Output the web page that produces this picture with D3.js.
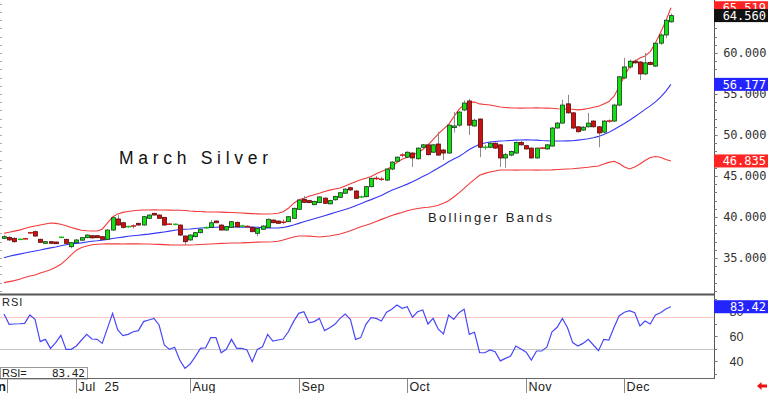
<!DOCTYPE html>
<html>
<head>
<meta charset="utf-8">
<script src="https://cdn.jsdelivr.net/npm/d3@7"></script>
<style>
  body { margin: 0; background: #fff; }
  svg { display: block; }
  text { font-family: "Liberation Sans", Arial, sans-serif; }
  .mono { font-family: "DejaVu Sans Mono", monospace; }
</style>
</head>
<body>
<svg id="chart" width="768" height="393"></svg>
<script>
// daily bars, mid Jun -> Dec 12
const opens = [
  37.40,37.52,37.40,37.25,37.40,38.10,38.21,37.28,36.79,36.99,
  36.95,37.50,37.28,36.38,36.87,37.17,37.48,37.72,37.72,37.60,
  37.28,38.41,39.76,39.30,38.80,38.93,39.23,39.02,39.84,40.45,
  40.24,39.96,39.15,39.08,39.02,37.68,37.20,37.60,38.09,38.65,
  38.74,39.51,39.02,38.41,38.74,39.35,38.85,38.92,38.74,38.01,
  38.50,38.74,39.63,39.51,39.43,39.43,39.84,40.94,42.16,42.00,
  41.50,41.75,42.30,41.60,42.10,42.40,42.90,43.57,43.17,42.40,
  42.48,43.70,44.75,44.65,44.50,45.85,46.80,47.60,47.30,47.80,
  47.10,48.50,48.80,47.90,48.90,48.17,47.80,50.90,51.20,53.05,
  54.15,51.10,51.95,48.45,48.50,49.00,48.80,47.20,47.55,47.80,
  49.10,48.70,48.40,47.20,48.45,48.30,48.65,50.85,51.45,53.80,
  52.70,51.00,50.60,51.00,51.70,51.00,50.35,51.75,51.70,53.65,
  56.95,58.30,59.00,58.90,57.45,58.85,58.40,61.20,62.20,63.80
];
const highs = [
  37.80,37.65,37.50,37.35,37.45,38.20,38.35,37.35,37.05,37.05,
  37.00,37.60,37.35,36.95,37.30,37.55,37.90,37.80,37.80,37.65,
  38.50,40.00,40.24,39.40,38.95,39.10,39.30,40.10,40.30,40.50,
  40.30,40.00,39.20,39.20,39.10,37.75,37.90,38.15,38.60,38.85,
  39.63,39.60,39.10,38.90,39.50,39.45,39.05,39.00,38.80,38.70,
  39.00,39.80,39.70,39.55,39.70,40.10,41.15,42.20,42.56,42.10,
  42.00,42.50,42.40,42.10,42.60,43.05,43.50,43.70,43.25,42.60,
  43.80,44.80,45.00,44.90,45.95,46.80,47.40,47.80,48.00,47.90,
  48.50,48.90,48.90,48.90,50.40,48.30,51.30,52.80,52.90,54.20,
  54.40,52.00,52.00,48.80,49.20,49.10,48.90,47.80,48.10,49.20,
  49.30,48.80,48.50,48.50,48.50,48.90,51.00,51.60,54.30,54.90,
  52.80,51.10,51.10,52.70,51.80,51.10,51.80,51.90,53.80,57.20,
  59.40,59.20,59.20,59.00,60.00,59.00,61.30,62.40,64.10,64.80
];
const lows = [
  37.30,37.10,36.85,37.20,37.25,37.90,37.60,36.85,36.75,36.75,
  36.70,37.45,36.70,36.20,36.80,37.10,37.40,37.40,37.40,37.20,
  37.20,38.30,38.95,38.60,38.70,38.60,38.95,38.95,39.80,40.20,
  39.80,38.95,39.05,39.00,37.70,36.60,37.10,37.50,38.00,38.55,
  38.70,39.25,38.35,38.30,38.70,38.70,38.80,38.70,38.15,37.68,
  38.45,38.70,39.25,39.20,39.10,39.40,39.80,40.90,41.70,41.70,
  41.45,41.70,41.60,41.55,42.00,42.30,42.80,43.20,42.20,42.30,
  42.40,43.60,44.50,44.40,44.40,45.70,46.70,47.30,47.20,46.10,
  47.00,48.40,47.50,47.80,47.50,46.95,47.70,50.30,51.00,52.90,
  50.00,51.00,47.30,48.20,48.40,48.30,46.10,46.00,47.40,47.70,
  48.70,48.20,47.10,47.10,48.30,48.20,48.60,50.80,51.40,52.60,
  50.70,50.30,50.50,50.90,50.90,48.50,50.20,51.50,51.60,53.50,
  56.80,58.10,58.70,56.70,57.30,58.50,58.30,61.00,61.80,63.70
];
const closes = [
  37.60,37.20,36.99,37.30,37.28,38.05,37.68,36.91,36.99,36.79,
  36.74,37.55,36.79,36.87,37.20,37.48,37.80,37.45,37.48,37.28,
  38.41,39.91,39.02,38.74,38.85,38.88,39.02,40.04,40.24,40.24,
  39.84,39.02,39.10,39.13,37.80,36.99,37.80,38.09,38.50,38.75,
  39.30,39.30,38.41,38.82,39.43,38.80,38.95,38.75,38.21,38.62,
  38.90,39.72,39.30,39.23,39.30,40.04,41.06,42.07,41.79,41.75,
  41.90,42.45,41.67,42.00,42.50,42.96,43.40,43.30,42.28,42.50,
  43.70,44.72,44.65,44.55,45.85,46.70,47.30,47.50,47.90,47.20,
  48.40,48.80,47.60,48.80,47.55,47.80,51.20,51.10,52.80,53.90,
  51.20,51.80,48.50,48.55,49.00,48.40,47.20,47.60,48.00,49.10,
  48.80,48.30,47.20,48.40,48.35,48.80,50.85,51.45,53.65,52.70,
  50.85,50.40,50.95,51.45,51.00,50.25,51.70,51.65,53.65,57.10,
  58.30,59.00,58.80,57.45,58.80,58.60,61.20,62.20,64.00,64.56
];

const upperBand = [
  38.02,38.15,38.28,38.40,38.59,38.78,38.90,39.02,39.15,39.27,
  39.22,39.11,38.93,38.73,38.55,38.39,38.33,38.29,38.29,38.51,
  39.24,40.00,40.38,40.56,40.68,40.77,40.83,40.85,40.86,40.87,
  40.86,40.85,40.84,40.83,40.82,40.79,40.73,40.69,40.67,40.63,
  40.61,40.61,40.60,40.57,40.54,40.51,40.48,40.44,40.41,40.38,
  40.36,40.36,40.40,40.46,40.65,41.06,41.65,42.10,42.29,42.52,
  42.72,42.90,43.10,43.28,43.41,43.54,43.79,44.05,44.29,44.54,
  44.73,44.95,45.26,45.56,45.80,46.15,46.65,47.05,47.30,47.56,
  47.80,48.23,48.79,49.44,50.13,50.71,51.30,52.21,53.12,53.69,
  53.99,54.02,53.79,53.72,53.66,53.54,53.41,53.35,53.30,53.29,
  53.28,53.29,53.30,53.31,53.30,53.28,53.27,53.21,53.17,53.17,
  53.14,53.07,53.12,53.24,53.38,53.50,53.78,54.07,54.73,55.90,
  57.17,58.33,58.99,59.39,59.63,60.17,61.23,62.50,63.88,65.52
];
const midBand = [
  35.02,35.21,35.35,35.47,35.60,35.73,35.85,35.97,36.11,36.23,
  36.35,36.49,36.61,36.72,36.78,36.85,36.95,37.05,37.10,37.17,
  37.27,37.37,37.46,37.55,37.65,37.72,37.78,37.85,37.91,38.00,
  38.09,38.18,38.28,38.38,38.48,38.51,38.54,38.60,38.66,38.69,
  38.72,38.75,38.78,38.78,38.79,38.78,38.77,38.78,38.77,38.75,
  38.71,38.67,38.66,38.66,38.73,38.86,39.02,39.22,39.41,39.60,
  39.79,39.97,40.16,40.35,40.55,40.73,40.92,41.12,41.37,41.62,
  41.88,42.12,42.38,42.63,42.96,43.26,43.51,43.76,44.01,44.29,
  44.61,44.93,45.23,45.60,45.97,46.35,46.73,47.06,47.38,47.79,
  48.23,48.56,48.88,49.02,49.15,49.21,49.27,49.29,49.33,49.37,
  49.39,49.40,49.39,49.37,49.32,49.29,49.27,49.26,49.27,49.28,
  49.30,49.37,49.45,49.54,49.67,49.83,50.06,50.32,50.67,51.04,
  51.41,51.80,52.23,52.67,53.12,53.55,54.04,54.63,55.33,56.18
];
const lowerBand = [
  32.00,32.12,32.24,32.41,32.61,32.80,32.93,33.18,33.36,33.56,
  33.88,34.23,34.76,35.39,35.95,36.28,36.46,36.61,36.67,36.71,
  36.72,36.73,36.72,36.71,36.72,36.73,36.72,36.71,36.70,36.68,
  36.66,36.63,36.60,36.59,36.58,36.59,36.59,36.61,36.65,36.68,
  36.71,36.74,36.78,36.80,36.83,36.83,36.84,36.88,36.90,36.94,
  36.95,36.96,36.99,37.05,37.19,37.38,37.56,37.68,37.69,37.67,
  37.63,37.57,37.62,37.68,37.80,37.93,38.12,38.32,38.56,38.82,
  39.00,39.20,39.45,39.71,39.95,40.18,40.38,40.56,40.76,40.91,
  41.03,41.13,41.19,41.29,41.43,41.67,41.99,42.44,42.95,43.50,
  44.07,44.59,45.09,45.32,45.49,45.61,45.73,45.74,45.73,45.72,
  45.73,45.74,45.73,45.72,45.73,45.74,45.75,45.79,45.82,45.85,
  45.89,45.95,46.01,46.07,46.15,46.21,46.46,46.66,46.79,46.52,
  46.10,45.85,46.10,46.46,46.89,47.26,47.38,47.28,47.01,46.84
];

const rsiValues = [
  77.6,69.3,69.6,69.8,70.1,76.8,73.3,55.5,57.3,50.1,
  54.7,60.5,49.3,49.3,52.0,56.8,61.3,57.6,57.3,54.1,
  66.1,78.1,64.8,60.3,61.3,63.4,64.3,71.5,72.8,74.1,
  68.8,52.8,49.3,51.0,40.8,34.1,37.6,43.5,50.1,50.6,
  58.7,58.7,46.6,49.3,57.3,50.1,50.1,48.8,39.4,49.3,
  51.4,61.3,56.0,56.8,57.6,63.4,71.5,78.1,79.4,70.6,
  71.5,74.1,64.3,66.6,69.3,74.1,77.6,73.3,57.3,58.7,
  69.3,74.6,74.1,72.0,79.0,81.4,84.8,82.2,83.4,75.0,
  79.4,80.8,69.6,74.1,65.4,61.6,76.8,73.3,78.6,81.4,
  61.3,63.0,46.6,46.6,48.8,47.4,40.1,42.1,44.0,52.0,
  49.6,47.0,40.8,48.0,48.0,51.0,63.4,67.0,74.1,66.6,
  54.7,52.0,54.1,57.3,52.8,48.2,57.3,56.8,67.0,76.2,
  79.0,80.2,78.6,68.0,72.0,69.6,76.8,78.6,81.6,83.42
];

// bar index of the first trading day of each month
const monthIdx = [14, 36, 57, 78, 101, 120];
const monthLabels = ["Jul 25", "Aug", "Sep", "Oct", "Nov", "Dec"];
const priceTicks = [35, 40, 45, 50, 55, 60];
const rsiTicks = [40, 60, 80];
const rsiLevels = [75, 50];

const lastUpper = 65.519, lastMid = 56.177, lastLower = 46.835, lastClose = 64.56, lastRsi = 83.42;

const svg = d3.select('#chart');
const axisX = 714;

const x = d3.scaleLinear().domain([0, closes.length - 1]).range([4, 4 + 5.17 * (closes.length - 1)]);
const y = d3.scaleLinear().domain([30.61, 66.463]).range([294, 0]);
const ry = d3.scaleLinear().domain([26.4, 92]).range([378, 296]);

// ---- price panel ----
const bandLine = d3.line().x((d, i) => x(i)).y(d => y(d));
[[upperBand, '#f23a3a'], [lowerBand, '#f23a3a'], [midBand, '#3636f5']].forEach(([arr, col]) => {
  svg.append('path').datum(arr).attr('d', bandLine)
    .attr('fill', 'none').attr('stroke', col).attr('stroke-width', 1.1);
});

const bars = svg.append('g');
closes.forEach((c, i) => {
  const o = opens[i], cx = Math.round(x(i)) + 0.5;
  const up = c >= o;
  bars.append('line').attr('x1', cx).attr('x2', cx)
    .attr('y1', y(highs[i])).attr('y2', y(lows[i]))
    .attr('stroke', '#8a8a8a').attr('stroke-width', 1);
  const top = y(Math.max(o, c)), bot = y(Math.min(o, c));
  if (bot - top < 1.5) {
    bars.append('line').attr('x1', cx - 2.5).attr('x2', cx + 2.5)
      .attr('y1', (top + bot) / 2).attr('y2', (top + bot) / 2)
      .attr('stroke', up ? '#10c010' : '#d01010').attr('stroke-width', 1.5);
  } else {
    bars.append('rect').attr('x', cx - 2).attr('width', 4)
      .attr('y', top).attr('height', bot - top)
      .attr('fill', up ? '#12e012' : '#cc1010')
      .attr('stroke', up ? '#1a3a1a' : '#5a0a0a').attr('stroke-width', 0.8);
  }
});

svg.append('text').text('March Silver')
  .attr('x', 119).attr('y', 164).attr('font-size', 17.5)
  .attr('textLength', 149).attr('lengthAdjust', 'spacing').attr('fill', '#111');
svg.append('text').text('Bollinger Bands')
  .attr('x', 428).attr('y', 221.5).attr('font-size', 13)
  .attr('textLength', 124).attr('lengthAdjust', 'spacing').attr('fill', '#222');

// ---- RSI panel ----
rsiLevels.forEach((lv, k) => {
  svg.append('line').attr('x1', 0).attr('x2', axisX)
    .attr('y1', Math.round(ry(lv)) + 0.5).attr('y2', Math.round(ry(lv)) + 0.5)
    .attr('stroke', k === 0 ? '#ffc4c4' : '#c8c8c8').attr('stroke-width', 1);
});
svg.append('path').datum(rsiValues)
  .attr('d', d3.line().x((d, i) => x(i)).y(d => ry(d)))
  .attr('fill', 'none').attr('stroke', '#4848f8').attr('stroke-width', 1.2);

svg.append('text').text('RSI').attr('x', 2).attr('y', 306)
  .attr('font-size', 11).attr('letter-spacing', 1).attr('fill', '#222');
svg.append('rect').attr('x', 0.5).attr('y', 367.5).attr('width', 87).attr('height', 11.5)
  .attr('fill', '#fff').attr('stroke', '#999');
svg.append('text').text('RSI=').attr('x', 2).attr('y', 377)
  .attr('font-size', 11).attr('fill', '#222');
svg.append('text').attr('class', 'mono').text(lastRsi.toFixed(2))
  .attr('x', 85).attr('y', 377).attr('text-anchor', 'end')
  .attr('font-size', 11).attr('fill', '#222');

// ---- frame ----
svg.append('line').attr('x1', 0).attr('x2', axisX).attr('y1', 294.5).attr('y2', 294.5)
  .attr('stroke', '#555').attr('stroke-width', 2);
svg.append('line').attr('x1', 0).attr('x2', axisX).attr('y1', 378.5).attr('y2', 378.5)
  .attr('stroke', '#666').attr('stroke-width', 1);
svg.append('line').attr('x1', axisX + 0.5).attr('x2', axisX + 0.5).attr('y1', 0).attr('y2', 379)
  .attr('stroke', '#555').attr('stroke-width', 1);

// right price axis
const yAxis = d3.axisRight(y).tickValues(priceTicks).tickFormat(d3.format('.3f'))
  .tickSize(3).tickPadding(6);
const gy = svg.append('g').attr('transform', `translate(${axisX + 0.5},0)`).call(yAxis);
gy.select('.domain').remove();
gy.selectAll('text').attr('class', 'mono').attr('font-size', 12).attr('fill', '#333')
  .attr('text-anchor', 'end').attr('x', 52);
gy.selectAll('line').attr('stroke', '#666');
svg.append('g').selectAll('line').data(d3.range(31, 67)).join('line')
  .attr('x1', axisX).attr('x2', axisX + 3)
  .attr('y1', d => Math.round(y(d)) + 0.5).attr('y2', d => Math.round(y(d)) + 0.5)
  .attr('stroke', '#777');
svg.append('g').selectAll('line').data(d3.range(31, 67)).join('line')
  .attr('x1', 0).attr('x2', 2)
  .attr('y1', d => Math.round(y(d)) + 0.5).attr('y2', d => Math.round(y(d)) + 0.5)
  .attr('stroke', '#aaa');

// right RSI axis
const rAxis = d3.axisRight(ry).tickValues(rsiTicks).tickSize(3).tickPadding(6);
const gr = svg.append('g').attr('transform', `translate(${axisX + 0.5},0)`).call(rAxis);
gr.select('.domain').remove();
gr.selectAll('text').attr('font-size', 12.5).attr('fill', '#333')
  .attr('text-anchor', 'end').attr('x', 29);
gr.selectAll('line').attr('stroke', '#666');
svg.append('g').selectAll('line').data(d3.range(30, 91, 10)).join('line')
  .attr('x1', axisX).attr('x2', axisX + 3)
  .attr('y1', d => Math.round(ry(d)) + 0.5).attr('y2', d => Math.round(ry(d)) + 0.5)
  .attr('stroke', '#777');

// last value tags
function tag(yy, val, fill, digits) {
  const g = svg.append('g');
  g.append('rect').attr('x', axisX).attr('y', yy - 6.5).attr('width', 768 - axisX).attr('height', 13)
    .attr('fill', fill);
  g.append('text').attr('class', 'mono').text(val.toFixed(digits))
    .attr('x', 766).attr('y', yy + 4.5).attr('text-anchor', 'end')
    .attr('font-size', 12).attr('fill', '#fff');
}
tag(y(lastUpper), lastUpper, '#ff2424', 3);
tag(y(lastClose), lastClose, '#111', 3);
tag(y(lastMid), lastMid, '#2424ff', 3);
tag(y(lastLower), lastLower, '#ff2424', 3);
tag(ry(lastRsi), lastRsi, '#2424ff', 2);

// ---- time axis ----
const xt = svg.append('g');
xt.append('line').attr('x1', 7.5).attr('x2', 7.5).attr('y1', 379).attr('y2', 393).attr('stroke', '#888');
xt.append('text').text('Jun').attr('x', 6).attr('y', 391).attr('text-anchor', 'end')
  .attr('font-size', 13).attr('font-weight', 'bold').attr('fill', '#111');
monthIdx.forEach((mi, k) => {
  const px = Math.round(x(mi)) + 0.5;
  xt.append('line').attr('x1', px).attr('x2', px).attr('y1', 379).attr('y2', 393).attr('stroke', '#888');
  xt.append('text').text(monthLabels[k]).attr('x', px + 2).attr('y', 391)
    .attr('font-size', 12.5).attr('letter-spacing', 0.4).attr('word-spacing', 5).attr('fill', '#222');
});

// small red arrow bottom right
svg.append('path').attr('d', 'M757,386 L761.5,382 L761.5,384.5 L767,384.5 L767,387.5 L761.5,387.5 L761.5,390 Z')
  .attr('fill', '#ee1111');
</script>
</body>
</html>
